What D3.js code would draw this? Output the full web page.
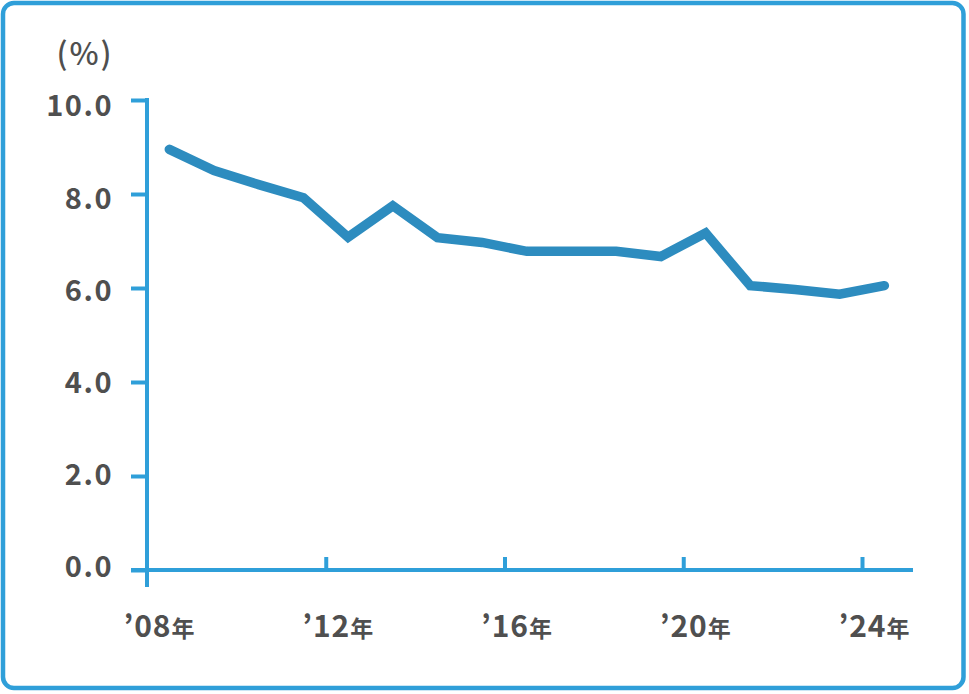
<!DOCTYPE html>
<html>
<head>
<meta charset="utf-8">
<script src="https://cdn.jsdelivr.net/npm/d3@7"></script>
<style>
  html, body { margin: 0; padding: 0; background: #fff; }
  svg { display: block; }
  text { font-family: "Noto Sans CJK JP", "Noto Sans", sans-serif; fill: #4f4f4f; }
</style>
</head>
<body>
<svg id="chart" width="969" height="694"></svg>
<script>
// ---- data ----
const years = [2008, 2009, 2010, 2011, 2012, 2013, 2014, 2015, 2016, 2017, 2018, 2019, 2020, 2021, 2022, 2023, 2024];
const values = [8.95, 8.5, 8.2, 7.92, 7.08, 7.75, 7.07, 6.97, 6.78, 6.78, 6.78, 6.67, 7.17, 6.05, 5.97, 5.87, 6.05];
const yTicks = [0, 2, 4, 6, 8, 10];
const xTickYears = [2008, 2012, 2016, 2020, 2024];
const xTickLabels = ["’08", "’12", "’16", "’20", "’24"];
const xTickSuffix = "年";
const unitLabel = "(%)";

// ---- layout ----
const W = 969, H = 694;
const axisColor = "#2f9fd9";
const lineColor = "#2d8cbf";
const svg = d3.select("#chart");

// frame
svg.append("rect")
  .attr("x", 3).attr("y", 3).attr("width", W - 8.5).attr("height", H - 9)
  .attr("rx", 11).attr("ry", 11)
  .attr("fill", "#fff").attr("stroke", axisColor).attr("stroke-width", 4.5);

const x = d3.scaleLinear().domain([2008, 2024]).range([147, 862]);
const y = d3.scaleLinear().domain([0, 10]).range([570, 100]);
const yLab = d3.scaleLinear().domain([0, 10]).range([566, 105.5]);

// y axis ticks (lines)
const gy = svg.append("g").attr("transform", "translate(147,0)")
  .call(d3.axisLeft(y).tickValues(yTicks).tickSize(16).tickFormat(""));
gy.select(".domain").remove();
gy.selectAll(".tick line").attr("stroke", axisColor).attr("stroke-width", 4);

// y axis labels
const gyl = svg.append("g").attr("transform", "translate(147,0)")
  .call(d3.axisLeft(yLab).tickValues(yTicks).tickSize(0).tickPadding(34).tickFormat(d3.format(".1f")));
gyl.select(".domain").remove();
gyl.selectAll(".tick text")
  .attr("font-size", 29).attr("font-weight", 700).attr("fill", "#4f4f4f")
  .attr("letter-spacing", 1.5).attr("dy", "0.36em");

// y axis line
svg.append("line")
  .attr("x1", x(2008)).attr("x2", x(2008))
  .attr("y1", y(10) - 2).attr("y2", y(0) + 17)
  .attr("stroke", axisColor).attr("stroke-width", 4);

// x axis line
svg.append("line")
  .attr("x1", x(2008) - 16).attr("x2", x(2024) + 51)
  .attr("y1", y(0)).attr("y2", y(0))
  .attr("stroke", axisColor).attr("stroke-width", 4);

// x axis ticks
const gx = svg.append("g").attr("transform", `translate(0,${y(0)})`)
  .call(d3.axisBottom(x).tickValues(xTickYears.slice(1)).tickSize(-13).tickFormat(""));
gx.select(".domain").remove();
gx.selectAll(".tick line").attr("stroke", axisColor).attr("stroke-width", 4);

// x labels
const xl = svg.append("g").selectAll("text")
  .data(xTickYears)
  .join("text")
  .attr("x", d => x(d) + 12)
  .attr("y", 637)
  .attr("text-anchor", "middle");
xl.append("tspan")
  .attr("font-size", 30).attr("font-weight", 700).attr("letter-spacing", 1)
  .text((d, i) => xTickLabels[i]);
xl.append("tspan")
  .attr("font-size", 23).attr("font-weight", 700)
  .text(xTickSuffix);

// unit label
svg.append("text")
  .attr("x", 85).attr("y", 65)
  .attr("text-anchor", "middle")
  .attr("font-size", 31).attr("font-weight", 500).attr("letter-spacing", 2)
  .text(unitLabel);

// data line
const line = d3.line()
  .x((d, i) => x(years[i] + 0.5))
  .y(d => y(d));
svg.append("path")
  .datum(values)
  .attr("d", line)
  .attr("fill", "none")
  .attr("stroke", lineColor)
  .attr("stroke-width", 9.5)
  .attr("stroke-linejoin", "miter")
  .attr("stroke-linecap", "round");
</script>
</body>
</html>
